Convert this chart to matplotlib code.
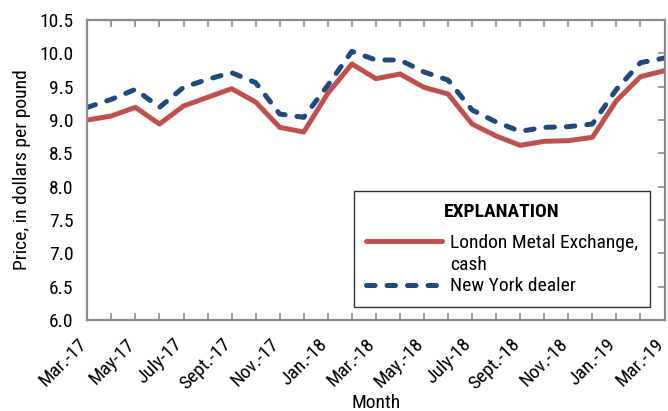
import matplotlib
matplotlib.use("Agg")
import matplotlib.pyplot as plt
from matplotlib import font_manager
from matplotlib.lines import Line2D
import numpy as np

# monthly prices, Mar. 2017 .. Mar. 2019
months = ["Mar.-17", "Apr.-17", "May-17", "June-17", "July-17", "Aug.-17", "Sept.-17",
          "Oct.-17", "Nov.-17", "Dec.-17", "Jan.-18", "Feb.-18", "Mar.-18", "Apr.-18",
          "May.-18", "June-18", "July-18", "Aug.-18", "Sept.-18", "Oct.-18", "Nov.-18",
          "Dec.-18", "Jan.-19", "Feb.-19", "Mar.-19"]
lme_cash = [9.00, 9.06, 9.19, 8.94, 9.21, 9.34, 9.47, 9.27, 8.89, 8.82, 9.40, 9.84,
            9.62, 9.69, 9.49, 9.39, 8.94, 8.76, 8.62, 8.68, 8.69, 8.74, 9.29, 9.65, 9.74]
ny_dealer = [9.19, 9.31, 9.46, 9.19, 9.49, 9.61, 9.71, 9.56, 9.09, 9.04, 9.52, 10.03,
             9.90, 9.90, 9.72, 9.60, 9.15, 8.97, 8.83, 8.89, 8.90, 8.94, 9.46, 9.86, 9.93]
y_ticks = [6.0, 6.5, 7.0, 7.5, 8.0, 8.5, 9.0, 9.5, 10.0, 10.5]

# condensed face if one exists, otherwise plain Liberation Sans a bit smaller
names = {f.name for f in font_manager.fontManager.ttflist}
fam, fs = "Liberation Sans", 12.5
for cand in ["Liberation Sans Narrow", "Roboto Condensed", "Open Sans Condensed",
             "Noto Sans Condensed", "DejaVu Sans Condensed"]:
    if cand in names:
        fam, fs = cand, 14
        break
plt.rcParams["font.family"] = [fam, "DejaVu Sans"]

red = "#C0504D"
blue = "#1F4A7E"
grey = "#8C8C8C"

x = np.arange(len(months))
fig = plt.figure(figsize=(6.68, 4.11), dpi=100)
ax = fig.add_axes([0.1307, 0.2214, 0.8641, 0.7299])

ax.plot(x, lme_cash, color=red, lw=3.6, solid_joinstyle="round")
ax.plot(x, ny_dealer, color=blue, lw=3.6, dashes=(1.7, 2.4),
        dash_capstyle="round", dash_joinstyle="round")

ax.set_xlim(0, len(months) - 1)
ax.set_ylim(6.0, 10.5)
ax.set_yticks(y_ticks)
ax.set_yticklabels([f"{v:.1f}" for v in y_ticks], fontsize=fs)
ax.set_xticks(x)
ax.set_xticklabels([m if i % 2 == 0 else "" for i, m in enumerate(months)],
                   rotation=45, ha="right", va="baseline", rotation_mode="anchor",
                   fontsize=fs)

for s in ax.spines.values():
    s.set_color(grey)
    s.set_linewidth(1.6)
ax.tick_params(axis="x", direction="in", top=True, bottom=True, length=5,
               color=grey, width=1.2, pad=18)
ax.tick_params(axis="y", direction="in", left=False, right=True, length=5,
               color=grey, width=1.2, pad=10)

ax.set_xlabel("Month", fontsize=fs, labelpad=0.5)
ax.set_ylabel("Price, in dollars per pound", fontsize=fs, labelpad=6)

handles = [Line2D([], [], color=red, lw=3.6, solid_capstyle="round"),
           Line2D([], [], lw=0),
           Line2D([], [], color=blue, lw=3.6, dashes=(1.7, 2.4), dash_capstyle="round")]
labels = ["London Metal Exchange,", "cash", "New York dealer"]
leg = ax.legend(handles, labels, loc="lower right", bbox_to_anchor=(0.975, 0.043),
                title="EXPLANATION", title_fontproperties={"weight": "bold", "size": fs},
                fontsize=fs, frameon=True, fancybox=False, edgecolor="black",
                handlelength=3.9, handletextpad=0.45, labelspacing=0.2,
                borderpad=0.6, borderaxespad=0)
leg.get_frame().set_linewidth(1.0)
leg._legend_box.sep = 9

fig.savefig("out.png", dpi=100)
